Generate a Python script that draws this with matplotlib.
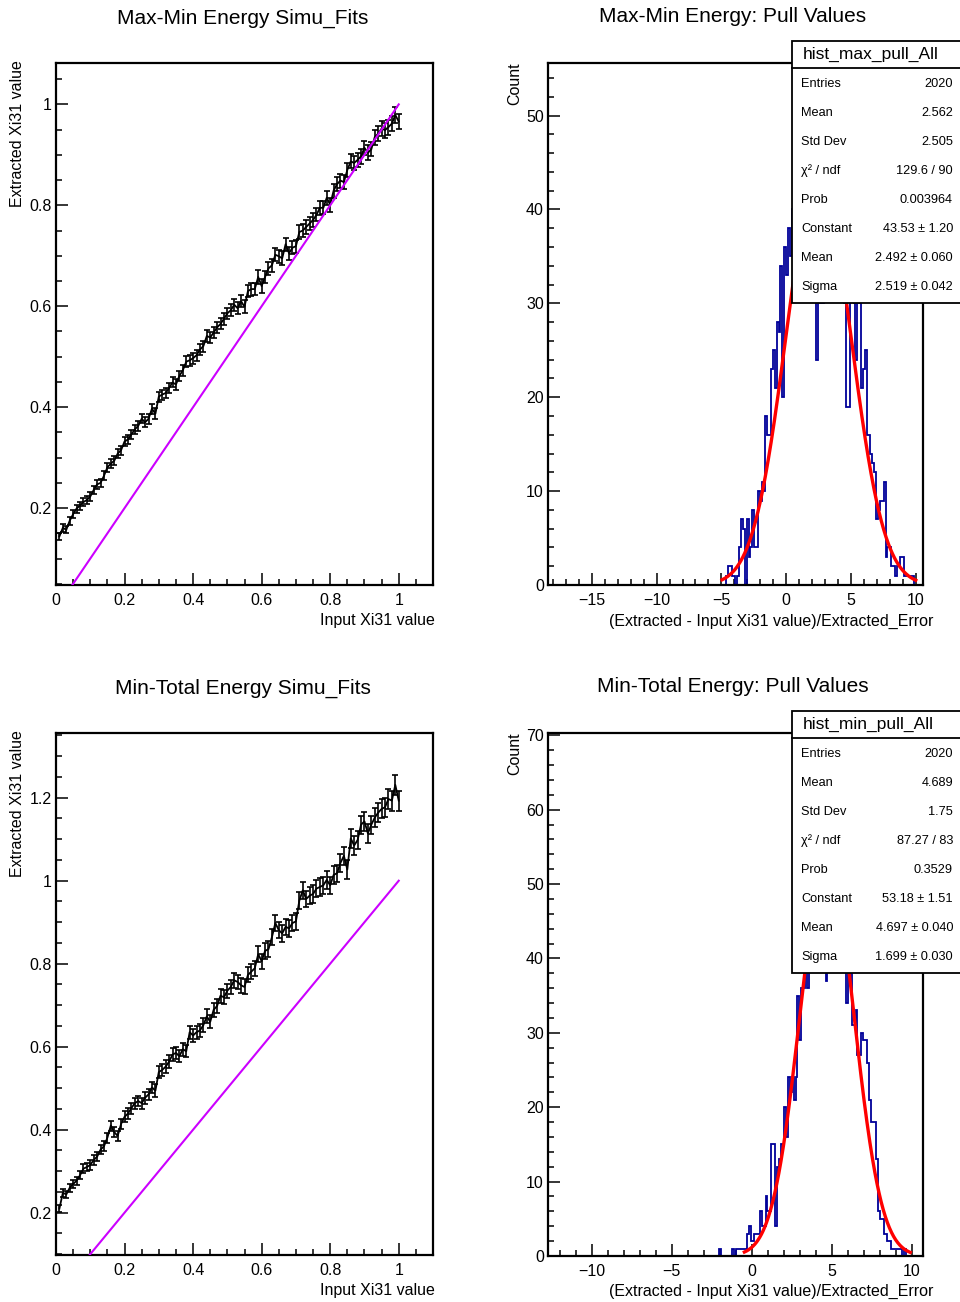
import numpy as np
import matplotlib
matplotlib.use('Agg')
import matplotlib.pyplot as plt
from matplotlib.patches import Rectangle
from matplotlib.lines import Line2D
from matplotlib.ticker import MultipleLocator

plt.rcParams['font.family'] = ['Liberation Sans', 'DejaVu Sans']

W, H = 960, 1302

# ---------------- data ----------------
# input Xi31 grid (0.01 ... 1.00)
input_xi31 = np.arange(1, 101) / 100.0

max_min_extracted = [
    0.144, 0.161, 0.157, 0.175, 0.188, 0.199, 0.205, 0.212, 0.216, 0.223,
    0.236, 0.247, 0.250, 0.264, 0.281, 0.288, 0.294, 0.308, 0.315, 0.332,
    0.336, 0.346, 0.356, 0.363, 0.377, 0.370, 0.377, 0.397, 0.387, 0.421,
    0.425, 0.428, 0.438, 0.449, 0.445, 0.462, 0.473, 0.490, 0.493, 0.497,
    0.503, 0.514, 0.521, 0.541, 0.538, 0.548, 0.558, 0.565, 0.575, 0.586,
    0.592, 0.603, 0.596, 0.610, 0.599, 0.630, 0.634, 0.634, 0.658, 0.640,
    0.658, 0.675, 0.681, 0.702, 0.699, 0.695, 0.723, 0.705, 0.716, 0.719,
    0.747, 0.750, 0.757, 0.764, 0.771, 0.781, 0.795, 0.795, 0.815, 0.801,
    0.829, 0.842, 0.849, 0.846, 0.870, 0.887, 0.884, 0.890, 0.897, 0.914,
    0.904, 0.911, 0.935, 0.942, 0.952, 0.949, 0.955, 0.962, 0.979, 0.966,
]
max_min_error = [
    0.007, 0.008, 0.007, 0.008, 0.008, 0.008, 0.008, 0.008, 0.008, 0.008,
    0.008, 0.009, 0.008, 0.009, 0.009, 0.009, 0.009, 0.009, 0.009, 0.009,
    0.009, 0.009, 0.009, 0.010, 0.009, 0.010, 0.010, 0.010, 0.011, 0.010,
    0.010, 0.010, 0.010, 0.010, 0.011, 0.010, 0.011, 0.011, 0.011, 0.011,
    0.011, 0.011, 0.011, 0.011, 0.011, 0.011, 0.011, 0.011, 0.012, 0.011,
    0.012, 0.012, 0.012, 0.012, 0.013, 0.012, 0.013, 0.012, 0.013, 0.013,
    0.012, 0.013, 0.013, 0.013, 0.013, 0.014, 0.013, 0.013, 0.013, 0.013,
    0.013, 0.013, 0.013, 0.013, 0.013, 0.013, 0.014, 0.013, 0.014, 0.014,
    0.014, 0.014, 0.014, 0.014, 0.014, 0.014, 0.014, 0.014, 0.015, 0.014,
    0.015, 0.014, 0.015, 0.015, 0.015, 0.015, 0.015, 0.015, 0.015, 0.015,
]

min_total_extracted = [
    0.210, 0.248, 0.244, 0.260, 0.269, 0.277, 0.290, 0.306, 0.310, 0.315,
    0.327, 0.335, 0.352, 0.360, 0.381, 0.410, 0.394, 0.385, 0.414, 0.431,
    0.439, 0.452, 0.464, 0.469, 0.464, 0.477, 0.485, 0.502, 0.494, 0.539,
    0.544, 0.552, 0.564, 0.581, 0.585, 0.577, 0.594, 0.589, 0.635, 0.627,
    0.635, 0.639, 0.652, 0.673, 0.660, 0.689, 0.698, 0.723, 0.719, 0.735,
    0.744, 0.760, 0.756, 0.748, 0.744, 0.773, 0.781, 0.789, 0.823, 0.806,
    0.831, 0.835, 0.864, 0.898, 0.881, 0.873, 0.889, 0.885, 0.898, 0.902,
    0.952, 0.977, 0.956, 0.964, 0.968, 0.981, 0.985, 0.989, 1.002, 0.989,
    1.014, 1.018, 1.043, 1.060, 1.027, 1.102, 1.085, 1.098, 1.135, 1.143,
    1.114, 1.135, 1.152, 1.164, 1.173, 1.177, 1.197, 1.193, 1.231, 1.193,
]
min_total_error = [
    0.009, 0.010, 0.009, 0.010, 0.010, 0.010, 0.010, 0.011, 0.010, 0.011,
    0.011, 0.011, 0.011, 0.012, 0.012, 0.012, 0.012, 0.012, 0.012, 0.013,
    0.013, 0.013, 0.013, 0.013, 0.013, 0.014, 0.014, 0.014, 0.015, 0.014,
    0.014, 0.015, 0.015, 0.015, 0.015, 0.015, 0.016, 0.015, 0.016, 0.016,
    0.016, 0.016, 0.016, 0.017, 0.016, 0.017, 0.017, 0.017, 0.017, 0.017,
    0.017, 0.018, 0.017, 0.018, 0.018, 0.018, 0.018, 0.018, 0.019, 0.018,
    0.019, 0.019, 0.019, 0.019, 0.019, 0.020, 0.019, 0.020, 0.020, 0.020,
    0.020, 0.020, 0.020, 0.020, 0.021, 0.020, 0.021, 0.021, 0.021, 0.021,
    0.021, 0.021, 0.022, 0.021, 0.022, 0.022, 0.022, 0.022, 0.022, 0.022,
    0.023, 0.022, 0.023, 0.023, 0.023, 0.023, 0.023, 0.024, 0.024, 0.024,
]

# identity line (extracted = input)
identity_x = [0.0, 1.0]
identity_y = [0.0, 1.0]

# pull histograms: 200 bins over the axis range, counts listed from first_bin on
max_pull_range = (-18.38, 10.56)
max_pull_first_bin = 95
max_pull_counts = [
    1, 2, 2, 1, 1, 0, 1, 4, 7, 6,
    0, 7, 3, 4, 8, 4, 4, 10, 9, 11,
    10, 18, 16, 16, 23, 25, 21, 28, 27, 34,
    20, 36, 33, 38, 35, 40, 37, 44, 39, 46,
    41, 48, 43, 39, 51, 44, 40, 31, 24, 38,
    30, 30, 42, 53, 45, 40, 47, 38, 43, 36,
    39, 33, 35, 30, 19, 19, 34, 32, 30, 24,
    31, 30, 21, 23, 25, 16, 16, 14, 13, 12,
    7, 8, 9, 9, 11, 3, 4, 4, 2, 2,
    1, 2, 2, 3, 3, 1, 1, 1, 1, 1, 0,
]
min_pull_range = (-12.73, 10.70)
min_pull_first_bin = 91
min_pull_counts = [
    1, 0, 0, 0, 0, 0, 0, 1, 0, 1,
    1, 1, 1, 1, 1, 3, 4, 2, 2, 3,
    3, 3, 6, 4, 4, 8, 6, 6, 15, 15,
    4, 12, 13, 15, 15, 20, 16, 24, 22, 24,
    21, 24, 35, 29, 36, 36, 42, 36, 45, 49,
    43, 55, 50, 58, 52, 67, 54, 37, 60, 51,
    56, 48, 62, 50, 53, 44, 47, 41, 34, 39,
    38, 31, 31, 33, 27, 27, 30, 29, 29, 26,
    21, 18, 18, 18, 13, 6, 5, 5, 3, 3,
    2, 2, 1, 1, 1, 1, 1, 1, 0, 1, 0,
]
n_bins = 200

# gaussian fits (constant, mean, sigma) and fit ranges
max_fit = (43.53, 2.492, 2.519)
max_fit_range = (-4.95, 10.0)
min_fit = (53.18, 4.697, 1.699)
min_fit_range = (-0.46, 9.9)

max_stats_title = 'hist_max_pull_All'
max_stats_labels = ['Entries', 'Mean', 'Std Dev', 'χ² / ndf', 'Prob', 'Constant', 'Mean', 'Sigma']
max_stats_values = ['2020', '2.562', '2.505', '129.6 / 90', '0.003964',
                    '43.53 ± 1.20', '2.492 ± 0.060', '2.519 ± 0.042']
min_stats_title = 'hist_min_pull_All'
min_stats_labels = ['Entries', 'Mean', 'Std Dev', 'χ² / ndf', 'Prob', 'Constant', 'Mean', 'Sigma']
min_stats_values = ['2020', '4.689', '1.75', '87.27 / 83', '0.3529',
                    '53.18 ± 1.51', '4.697 ± 0.040', '1.699 ± 0.030']


# ---------------- helpers ----------------
def fig_box(l, t, r, b):
    return [l / W, 1 - b / H, (r - l) / W, (b - t) / H]


def fx(px):
    return px / W


def fy(py):
    return 1 - py / H


def root_style(ax):
    for s in ax.spines.values():
        s.set_linewidth(1.6)
    ax.tick_params(which='both', direction='in', top=False, right=False,
                   labelsize=11.5, width=1.1)
    ax.tick_params(which='major', length=8.5)
    ax.tick_params(which='minor', length=4.5)
    ax.tick_params(axis='x', pad=6)
    ax.tick_params(axis='y', pad=3)


def draw_graph(ax, y, err, ylim, title, top):
    ax.errorbar(input_xi31, y, yerr=err, color='black', lw=1.3,
                elinewidth=1.2, capsize=2.2, capthick=1.2, zorder=2)
    ax.plot(identity_x, identity_y, color='#cc00ff', lw=1.5, zorder=3)
    ax.set_xlim(0, 1.1)
    ax.set_ylim(*ylim)
    ax.xaxis.set_major_locator(MultipleLocator(0.2))
    ax.xaxis.set_minor_locator(MultipleLocator(0.05))
    ax.yaxis.set_major_locator(MultipleLocator(0.2))
    ax.yaxis.set_minor_locator(MultipleLocator(0.05))
    ax.xaxis.set_major_formatter(lambda v, p: f'{v:g}')
    ax.yaxis.set_major_formatter(lambda v, p: f'{v:g}')
    root_style(ax)
    fig.text(fx(243), fy(top - 45), title, ha='center', va='center', fontsize=15)
    fig.text(fx(18), fy(top - 3), 'Extracted Xi31 value', rotation=90,
             ha='center', va='top', fontsize=11.5)
    fig.text(fx(435), fy(top + 558), 'Input Xi31 value', ha='right', va='center', fontsize=11.5)


def draw_hist(ax, counts, rng, first_bin, fit, fit_rng, ylim, ymajor, xmajor,
              title, top, stats_title, labels, values):
    width = (rng[1] - rng[0]) / n_bins
    lo = rng[0] + first_bin * width
    edges = lo + width * np.arange(len(counts) + 1)
    ax.stairs(counts, edges, color='#000099', lw=1.3, zorder=2)
    xs = np.linspace(fit_rng[0], fit_rng[1], 400)
    c, mu, sg = fit
    ax.plot(xs, c * np.exp(-0.5 * ((xs - mu) / sg) ** 2), color='#ff0000', lw=2.4, zorder=3)
    ax.set_xlim(*rng)
    ax.set_ylim(*ylim)
    ax.xaxis.set_major_locator(MultipleLocator(xmajor))
    ax.xaxis.set_minor_locator(MultipleLocator(1))
    ax.yaxis.set_major_locator(MultipleLocator(ymajor))
    ax.yaxis.set_minor_locator(MultipleLocator(2))
    ax.xaxis.set_major_formatter(lambda v, p: f'{v:g}'.replace('-', '\u2212'))
    root_style(ax)
    fig.text(fx(733), fy(top - 46), title, ha='center', va='center', fontsize=15)
    fig.text(fx(515), fy(top - 1), 'Count', rotation=90, ha='center', va='top', fontsize=11.5)
    fig.text(fx(933), fy(top + 558), '(Extracted - Input Xi31 value)/Extracted_Error',
             ha='right', va='center', fontsize=11.5)

    # stats box
    btop = top - 22
    bbot = btop + 262
    fig.add_artist(Rectangle((fx(792), fy(bbot)), fx(975 - 792), (bbot - btop) / H,
                             transform=fig.transFigure, facecolor='white',
                             edgecolor='black', lw=1.3, zorder=5))
    fig.add_artist(Line2D([fx(792), 1.0], [fy(btop + 27)] * 2, transform=fig.transFigure,
                          color='black', lw=1.3, zorder=6))
    fig.text(fx(803), fy(btop + 13), stats_title, ha='left', va='center', fontsize=12.5, zorder=7)
    for i, (lab, val) in enumerate(zip(labels, values)):
        yy = fy(btop + 43 + 29 * i)
        fig.text(fx(801), yy, lab, ha='left', va='center', fontsize=9.2, zorder=7)
        fig.text(fx(953), yy, val, ha='right', va='center', fontsize=9.2, zorder=7)


fig = plt.figure(figsize=(W / 100, H / 100), dpi=100)

ax_tl = fig.add_axes(fig_box(56, 63, 433, 585))
draw_graph(ax_tl, max_min_extracted, max_min_error, (0.0476, 1.082),
           'Max-Min Energy Simu_Fits', 63)

ax_bl = fig.add_axes(fig_box(56, 733, 433, 1255))
draw_graph(ax_bl, min_total_extracted, min_total_error, (0.098, 1.356),
           'Min-Total Energy Simu_Fits', 733)

ax_tr = fig.add_axes(fig_box(548, 63, 923, 585))
draw_hist(ax_tr, max_pull_counts, max_pull_range, max_pull_first_bin, max_fit, max_fit_range,
          (0, 55.6), 10, 5, 'Max-Min Energy: Pull Values', 63,
          max_stats_title, max_stats_labels, max_stats_values)

ax_br = fig.add_axes(fig_box(548, 733, 923, 1256))
draw_hist(ax_br, min_pull_counts, min_pull_range, min_pull_first_bin, min_fit, min_fit_range,
          (0, 70.3), 10, 5, 'Min-Total Energy: Pull Values', 733,
          min_stats_title, min_stats_labels, min_stats_values)

fig.savefig('out.png', dpi=100, facecolor='white')
